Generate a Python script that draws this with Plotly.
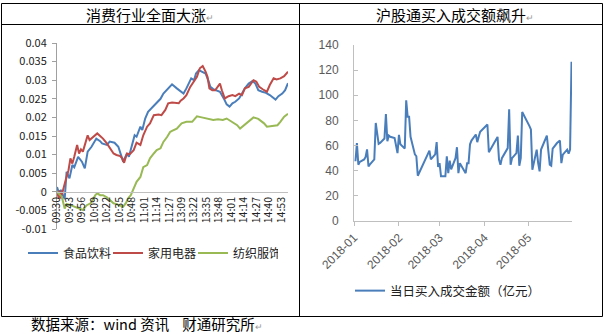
import plotly.graph_objects as go

W, H = 606, 334

# ---------------- left panel: intraday cumulative return by sector ----------------
session_ticks = ["09:30", "09:43", "09:56", "10:09", "10:22", "10:35", "10:48", "11:01",
                 "11:14", "11:27", "13:09", "13:22", "13:35", "13:48", "14:01", "14:14",
                 "14:27", "14:40", "14:53"]

food_time = ["09:30", "09:32", "09:34", "09:36", "09:38", "09:40", "09:43", "09:46", "09:48",
             "09:52", "09:56", "09:59", "10:02", "10:06", "10:11", "10:15", "10:17", "10:22",
             "10:25", "10:30", "10:34", "10:39", "10:41", "10:43", "10:45", "10:48", "10:51",
             "10:53", "10:57", "10:59", "11:02", "11:05", "11:10", "11:14", "11:18", "11:21",
             "11:26", "11:30", "13:04", "13:08", "13:11", "13:14", "13:19", "13:22", "13:24",
             "13:27", "13:30", "13:34", "13:37", "13:39", "13:42", "13:46", "13:49", "13:53",
             "13:56", "13:59", "14:02", "14:05", "14:09", "14:12", "14:15", "14:19", "14:23",
             "14:26", "14:29", "14:33", "14:37", "14:41", "14:47", "14:50", "14:54", "14:57",
             "15:00"]
food_ret = [0.0013, -0.0003, 0.0005, -0.0010, -0.0020, 0.0054, 0.0036, 0.0072, 0.0066,
            0.0094, 0.0081, 0.0063, 0.0108, 0.0121, 0.0143, 0.0136, 0.0130, 0.0126,
            0.0135, 0.0132, 0.0121, 0.0081, 0.0090, 0.0103, 0.0094, 0.0121, 0.0152,
            0.0148, 0.0175, 0.0166, 0.0197, 0.0215, 0.0229, 0.0240, 0.0250, 0.0264,
            0.0278, 0.0289, 0.0278, 0.0269, 0.0264, 0.0278, 0.0305, 0.0300, 0.0318,
            0.0327, 0.0323, 0.0318, 0.0298, 0.0282, 0.0276, 0.0273, 0.0269, 0.0251,
            0.0235, 0.0229, 0.0238, 0.0242, 0.0251, 0.0264, 0.0278, 0.0291, 0.0298,
            0.0291, 0.0273, 0.0269, 0.0266, 0.0260, 0.0248, 0.0257, 0.0264, 0.0273,
            0.0292]

appl_time = ["09:30", "09:32", "09:33", "09:34", "09:39", "09:42", "09:44", "09:46", "09:48",
             "09:51", "09:53", "09:55", "09:57", "10:02", "10:04", "10:08", "10:12", "10:15",
             "10:18", "10:22", "10:25", "10:29", "10:32", "10:36", "10:38", "10:40", "10:43",
             "10:46", "10:50", "10:53", "10:57", "11:00", "11:04", "11:07", "11:11", "11:16",
             "11:19", "11:23", "11:26", "11:30", "13:06", "13:08", "13:11", "13:14", "13:18",
             "13:21", "13:25", "13:28", "13:31", "13:34", "13:36", "13:38", "13:41", "13:44",
             "13:47", "13:49", "13:51", "13:54", "13:58", "14:02", "14:05", "14:09", "14:12",
             "14:15", "14:19", "14:24", "14:27", "14:30", "14:34", "14:38", "14:41", "14:45",
             "14:48", "14:52", "14:56", "15:00"]
appl_ret = [0.0000, -0.0018, 0.0004, -0.0018, 0.0031, 0.0058, 0.0090, 0.0076, 0.0094,
            0.0126, 0.0103, 0.0114, 0.0108, 0.0152, 0.0139, 0.0148, 0.0157, 0.0150,
            0.0143, 0.0130, 0.0117, 0.0103, 0.0099, 0.0096, 0.0090, 0.0078, 0.0103,
            0.0101, 0.0112, 0.0132, 0.0126, 0.0152, 0.0175, 0.0184, 0.0206, 0.0208,
            0.0206, 0.0220, 0.0238, 0.0240, 0.0238, 0.0245, 0.0251, 0.0260, 0.0282,
            0.0293, 0.0309, 0.0332, 0.0338, 0.0323, 0.0309, 0.0278, 0.0273, 0.0273,
            0.0282, 0.0291, 0.0273, 0.0251, 0.0257, 0.0260, 0.0257, 0.0264, 0.0260,
            0.0278, 0.0282, 0.0300, 0.0296, 0.0282, 0.0275, 0.0269, 0.0287, 0.0305,
            0.0302, 0.0305, 0.0311, 0.0323]

text_time = ["09:30", "09:32", "09:35", "09:38", "09:40", "09:44", "09:48", "09:52", "09:57",
             "10:01", "10:05", "10:10", "10:12", "10:15", "10:18", "10:22", "10:25", "10:29",
             "10:32", "10:36", "10:39", "10:42", "10:44", "10:47", "10:50", "10:53", "10:57",
             "11:00", "11:04", "11:07", "11:11", "11:14", "11:18", "11:21", "11:25", "11:28",
             "11:30", "13:04", "13:09", "13:14", "13:20", "13:25", "13:30", "13:35", "13:42",
             "13:47", "13:52", "13:56", "14:02", "14:07", "14:10", "14:14", "14:19", "14:24",
             "14:29", "14:35", "14:38", "14:43", "14:49", "14:52", "14:56", "15:00"]
text_ret = [0.0000, -0.0005, -0.0013, -0.0045, -0.0033, -0.0036, -0.0040, -0.0045, -0.0049,
            -0.0036, -0.0031, -0.0009, -0.0004, -0.0009, -0.0009, -0.0015, -0.0022, -0.0031,
            -0.0033, -0.0036, -0.0040, -0.0030, -0.0018, -0.0009, 0.0009, 0.0027, 0.0040,
            0.0066, 0.0072, 0.0090, 0.0103, 0.0112, 0.0117, 0.0134, 0.0148, 0.0161,
            0.0164, 0.0170, 0.0184, 0.0188, 0.0188, 0.0203, 0.0200, 0.0197, 0.0193,
            0.0195, 0.0193, 0.0197, 0.0188, 0.0179, 0.0170, 0.0179, 0.0191, 0.0200,
            0.0196, 0.0184, 0.0175, 0.0176, 0.0179, 0.0188, 0.0202, 0.0210]

left_yticks = [0.04, 0.035, 0.03, 0.025, 0.02, 0.015, 0.01, 0.005, 0, -0.005, -0.01]
left_ytext = ["0.04", "0.035", "0.03", "0.025", "0.02", "0.015", "0.01", "0.005", "0",
              "-0.005", "-0.01"]

# ---------------- right panel: daily northbound buy turnover ----------------
trade_day = ["01-02", "01-03", "01-04", "01-05", "01-08", "01-09", "01-10", "01-11", "01-12",
             "01-15", "01-16", "01-17", "01-18", "01-19", "01-22", "01-23", "01-24", "01-25",
             "01-26", "01-29", "01-30", "01-31",
             "02-01", "02-02", "02-05", "02-06", "02-07", "02-08", "02-09", "02-12", "02-13",
             "02-14", "02-22", "02-23", "02-26", "02-27", "02-28",
             "03-01", "03-02", "03-05", "03-06", "03-07", "03-08", "03-09", "03-12", "03-13",
             "03-14", "03-15", "03-16", "03-19", "03-20", "03-21", "03-22", "03-23", "03-26",
             "03-27", "03-28", "03-29",
             "04-03", "04-04", "04-09", "04-10", "04-11", "04-12", "04-13", "04-16", "04-17",
             "04-18", "04-19", "04-20", "04-23", "04-24", "04-25", "04-26", "04-27",
             "05-02", "05-03", "05-04", "05-07", "05-08", "05-09", "05-10", "05-11", "05-14",
             "05-15", "05-16", "05-17", "05-18", "05-21", "05-23", "05-24", "05-25", "05-28",
             "05-29", "05-30", "05-31"]
buy_amount = [47.5, 62.0, 44.8, 47.0, 49.0, 51.0, 57.0, 43.5, 45.0,
              49.0, 78.0, 68.0, 61.3, 62.0, 65.6, 85.0, 63.5, 68.0,
              67.0, 66.0, 60.0, 54.0,
              68.5, 61.0, 57.6, 96.0, 83.0, 83.0, 67.0, 53.0, 51.5,
              36.0, 56.0, 49.0, 53.0, 62.7, 43.0,
              46.0, 35.5, 35.5, 51.5, 38.0, 48.0, 41.0, 50.0, 58.7,
              38.0, 46.0, 44.0, 38.0, 46.0, 46.0, 61.0, 64.0, 68.8,
              62.7, 67.0, 71.0,
              76.8, 54.7, 64.8, 66.9, 48.8, 44.8, 50.0, 56.8, 58.0,
              88.8, 44.8, 50.0, 54.0, 68.0, 44.0, 50.0, 86.7,
              75.5, 72.8, 40.8, 56.8, 46.0, 39.5, 56.8, 60.0, 68.0,
              56.0, 44.8, 44.0, 57.6, 62.0, 64.0, 46.0, 52.8, 56.8,
              53.6, 56.8, 126.6]


def session_index(t):
    """Minute slot within the trading day (morning 09:30-11:30, afternoon 13:00-15:00)."""
    h, m = map(int, t.split(":"))
    mins = h * 60 + m
    if mins <= 11 * 60 + 30:
        return mins - (9 * 60 + 30)
    return 121 + mins - 13 * 60


def px(x):
    return x / W


def py(y):
    return 1 - y / H


BLUE, RED, GREEN = "#4a7ebb", "#be4b48", "#98b954"
CJK = "Noto Sans CJK SC"

fig = go.Figure()
for name, times, vals, color in [("食品饮料", food_time, food_ret, BLUE),
                                 ("家用电器", appl_time, appl_ret, RED),
                                 ("纺织服饰", text_time, text_ret, GREEN)]:
    fig.add_trace(go.Scatter(x=[session_index(t) for t in times], y=vals, mode="lines",
                             name=name, line=dict(color=color, width=2),
                             xaxis="x", yaxis="y", legend="legend"))

fig.add_trace(go.Scatter(x=["2018-" + d for d in trade_day], y=buy_amount, mode="lines",
                         name="当日买入成交金额（亿元）", line=dict(color="#4a7ebb", width=2),
                         xaxis="x2", yaxis="y2", legend="legend2"))

y_lo, y_hi = 229, 43          # pixel rows of -0.01 and 0.04
zero_row = y_lo - (y_lo - y_hi) * 0.2

fig.update_layout(
    width=W, height=H,
    margin=dict(l=0, r=0, t=0, b=0, autoexpand=False),
    paper_bgcolor="white", plot_bgcolor="white",
    showlegend=True,
    xaxis=dict(domain=[px(57), px(288)], range=[0, 241], anchor="free", position=py(zero_row),
               automargin=False,
               showline=True, linecolor="#bfbfbf", linewidth=1, showgrid=False, zeroline=False,
               tickvals=[session_index(t) for t in session_ticks], ticktext=session_ticks,
               tickangle=-90, tickfont=dict(family=CJK, size=10.5, color="#222"),
               ticks="", fixedrange=True),
    yaxis=dict(domain=[py(y_lo), py(y_hi)], range=[-0.01, 0.04], anchor="x", automargin=False,
               showline=True, linecolor="#a0a0a0", linewidth=1, showgrid=False, zeroline=False,
               tickvals=left_yticks, ticktext=left_ytext, ticks="outside", ticklen=4,
               tickcolor="#a0a0a0", ticklabelstandoff=3,
               tickfont=dict(family=CJK, size=11, color="#222")),
    xaxis2=dict(domain=[px(354), px(572)], anchor="y2", type="date", automargin=False,
                range=["2018-01-01", "2018-05-31 08:00"],
                tick0="2018-01-01", dtick="M1", tickformat="%Y-%m", tickangle=-45,
                showline=True, linecolor="#bfbfbf", linewidth=1, showgrid=False, zeroline=False,
                ticks="outside", ticklen=4, tickcolor="#bfbfbf",
                tickfont=dict(family="Liberation Sans", size=12, color="#595959")),
    yaxis2=dict(domain=[py(221), py(45)], anchor="x2", range=[0, 140], dtick=20,
                automargin=False,
                showline=True, linecolor="#bfbfbf", linewidth=1, showgrid=False, zeroline=False,
                ticks="inside", ticklen=4, tickcolor="#bfbfbf", ticklabelstandoff=12,
                tickfont=dict(family="Liberation Sans", size=12, color="#595959")),
    legend=dict(orientation="h", x=px(23), y=py(253), xanchor="left", yanchor="middle",
                font=dict(family=CJK, size=12, color="#222"), bgcolor="rgba(0,0,0,0)",
                itemwidth=30, tracegroupgap=0, entrywidth=40, entrywidthmode="pixels"),
    legend2=dict(orientation="h", x=px(350), y=py(291), xanchor="left", yanchor="middle",
                 font=dict(family=CJK, size=12.5, color="#222"), bgcolor="rgba(0,0,0,0)",
                 itemwidth=30),
)

# table frame around the two panels
frame = dict(color="black", width=1)
for x0, y0, x1, y1 in [(1.5, 3.5, 602.5, 3.5), (1.5, 24.5, 602.5, 24.5),
                       (1.5, 316.5, 602.5, 316.5), (1.5, 3.5, 1.5, 316.5),
                       (299.5, 3.5, 299.5, 316.5), (602.5, 3.5, 602.5, 316.5)]:
    fig.add_shape(type="line", xref="paper", yref="paper",
                  x0=px(x0), y0=py(y0), x1=px(x1), y1=py(y1), line=frame)

ret_mark = "<span style='font-size:9px;color:#999'>↵</span>"
for text, cx, cy, size, anchor in [
        ("消费行业全面大涨" + ret_mark, 150, 14, 15, "center"),
        ("沪股通买入成交额飙升" + ret_mark, 455, 14, 15, "center"),
        ("数据来源：wind 资讯&nbsp;&nbsp;&nbsp;&nbsp;财通研究所" + ret_mark, 29, 323.5, 14.5, "left")]:
    fig.add_annotation(text=text, xref="paper", yref="paper", x=px(cx), y=py(cy),
                       xanchor=anchor, yanchor="middle", showarrow=False,
                       font=dict(family=CJK, size=size, color="black"))

fig.write_html("out.html")
